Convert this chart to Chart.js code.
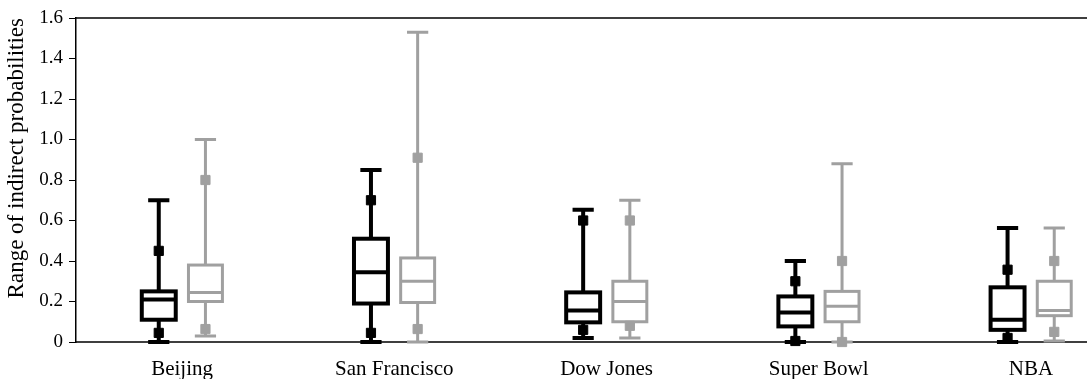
<!DOCTYPE html>
<html>
<head>
<meta charset="utf-8">
<script src="https://cdn.jsdelivr.net/npm/chart.js@4.4.1/dist/chart.umd.min.js"></script>
<style>
  html, body { margin: 0; padding: 0; background: #fff; overflow: hidden; }
  canvas { display: block; }
</style>
</head>
<body>
<canvas id="chart" width="1087" height="379"></canvas>
<script>
// box plot of indirect probability ranges, two groups per question
const categories = ['Beijing', 'San Francisco', 'Dow Jones', 'Super Bowl', 'NBA'];
const yTicks = [0, 0.2, 0.4, 0.6, 0.8, 1.0, 1.2, 1.4, 1.6];

// black group
const blackMin  = [0,     0,     0.02,  0,     0];
const blackLow  = [0.045, 0.045, 0.06,  0.005, 0.02];
const blackQ1   = [0.11,  0.19,  0.097, 0.077, 0.06];
const blackMed  = [0.21,  0.345, 0.156, 0.146, 0.11];
const blackQ3   = [0.25,  0.51,  0.245, 0.225, 0.27];
const blackHigh = [0.45,  0.70,  0.60,  0.30,  0.357];
const blackMax  = [0.70,  0.85,  0.653, 0.40,  0.563];

// grey group
const greyMin  = [0.03,  0,     0.02,  0,     0.005];
const greyLow  = [0.064, 0.064, 0.08,  0,     0.05];
const greyQ1   = [0.20,  0.195, 0.10,  0.10,  0.13];
const greyMed  = [0.245, 0.30,  0.20,  0.176, 0.155];
const greyQ3   = [0.38,  0.415, 0.30,  0.25,  0.30];
const greyHigh = [0.80,  0.91,  0.60,  0.40,  0.40];
const greyMax  = [1.00,  1.53,  0.70,  0.88,  0.563];

const BLACK = '#000000';
const GREY = '#a0a0a0';
const FONT = "'Liberation Serif', 'Times New Roman', serif";

const groups = [
  { color: BLACK, offset: -0.11, lw: 4, min: blackMin, low: blackLow, q1: blackQ1, med: blackMed, q3: blackQ3, high: blackHigh, max: blackMax },
  { color: GREY,  offset:  0.11, lw: 3, min: greyMin,  low: greyLow,  q1: greyQ1,  med: greyMed,  q3: greyQ3,  high: greyHigh,  max: greyMax }
];

// markers (squares) as real scatter datasets
function markerData(g) {
  const pts = [];
  categories.forEach((c, i) => {
    pts.push({ x: i + g.offset, y: g.high[i] });
    pts.push({ x: i + g.offset, y: g.low[i] });
  });
  return pts;
}

// top + bottom frame lines run to the canvas edge (plot is cut off on the right)
const frameLines = {
  id: 'frameLines',
  beforeDatasetsDraw(chart) {
    const { ctx, chartArea } = chart;
    ctx.save();
    ctx.strokeStyle = '#000';
    ctx.lineWidth = 1.5;
    ctx.beginPath();
    ctx.moveTo(chartArea.left, chartArea.top);
    ctx.lineTo(chart.width, chartArea.top);
    ctx.moveTo(chartArea.left, chartArea.bottom);
    ctx.lineTo(chart.width, chartArea.bottom);
    ctx.stroke();
    ctx.restore();
  }
};

// draws boxes + whiskers through the chart scales
const boxPlot = {
  id: 'boxPlot',
  beforeDatasetsDraw(chart) {
    const { ctx, scales: { x, y } } = chart;
    const boxHalf = 0.08, capHalf = 0.05;
    groups.forEach(g => {
      ctx.save();
      ctx.strokeStyle = g.color;
      ctx.lineWidth = g.lw;
      ctx.lineCap = 'butt';
      categories.forEach((c, i) => {
        const cx = x.getPixelForValue(i + g.offset);
        const bl = x.getPixelForValue(i + g.offset - boxHalf);
        const br = x.getPixelForValue(i + g.offset + boxHalf);
        const cl = x.getPixelForValue(i + g.offset - capHalf);
        const cr = x.getPixelForValue(i + g.offset + capHalf);
        const yMin = y.getPixelForValue(g.min[i]);
        const yQ1 = y.getPixelForValue(g.q1[i]);
        const yMed = y.getPixelForValue(g.med[i]);
        const yQ3 = y.getPixelForValue(g.q3[i]);
        const yMax = y.getPixelForValue(g.max[i]);

        ctx.beginPath();
        // whiskers
        ctx.moveTo(cx, yMax); ctx.lineTo(cx, yQ3);
        ctx.moveTo(cx, yQ1); ctx.lineTo(cx, yMin);
        // caps
        ctx.moveTo(cl, yMax); ctx.lineTo(cr, yMax);
        ctx.moveTo(cl, yMin); ctx.lineTo(cr, yMin);
        ctx.stroke();

        ctx.fillStyle = '#fff';
        ctx.fillRect(bl, yQ3, br - bl, yQ1 - yQ3);
        ctx.strokeRect(bl, yQ3, br - bl, yQ1 - yQ3);

        ctx.beginPath();
        ctx.moveTo(bl, yMed); ctx.lineTo(br, yMed);
        ctx.stroke();
      });
      ctx.restore();
    });
  }
};

new Chart(document.getElementById('chart'), {
  type: 'scatter',
  data: {
    datasets: groups.map(g => ({
      data: markerData(g),
      pointStyle: 'rect',
      pointRadius: 6.5,
      pointBorderWidth: 1,
      backgroundColor: g.color,
      borderColor: g.color,
      clip: false
    }))
  },
  options: {
    responsive: false,
    animation: false,
    layout: { padding: { top: 18, right: 0, bottom: 0, left: 0 } },
    plugins: { legend: { display: false }, tooltip: { enabled: false } },
    scales: {
      x: {
        type: 'linear',
        min: -0.5,
        max: 4.229,
        afterFit: s => { s.height = 37; },
        afterBuildTicks: s => { s.ticks = categories.map((c, i) => ({ value: i })); },
        grid: { display: false, drawTicks: false },
        border: { display: false },
        ticks: {
          autoSkip: false,
          maxRotation: 0,
          padding: 15,
          color: '#000',
          font: { family: FONT, size: 21 },
          callback: v => categories[v]
        }
      },
      y: {
        min: 0,
        max: 1.6,
        afterFit: s => { s.width = 76; },
        afterBuildTicks: s => { s.ticks = yTicks.map(v => ({ value: v })); },
        grid: { display: true, drawOnChartArea: false, drawTicks: true, tickLength: 7, color: '#000', lineWidth: 1 },
        border: { display: true, color: '#000', width: 1.5 },
        ticks: {
          padding: 6,
          color: '#000',
          font: { family: FONT, size: 19 },
          callback: v => v === 0 ? '0' : v.toFixed(1)
        },
        title: {
          display: true,
          text: 'Range of indirect probabilities',
          align: 'end',
          color: '#000',
          padding: { top: 3, bottom: 0 },
          font: { family: FONT, size: 23 }
        }
      }
    }
  },
  plugins: [frameLines, boxPlot]
});
</script>
</body>
</html>
